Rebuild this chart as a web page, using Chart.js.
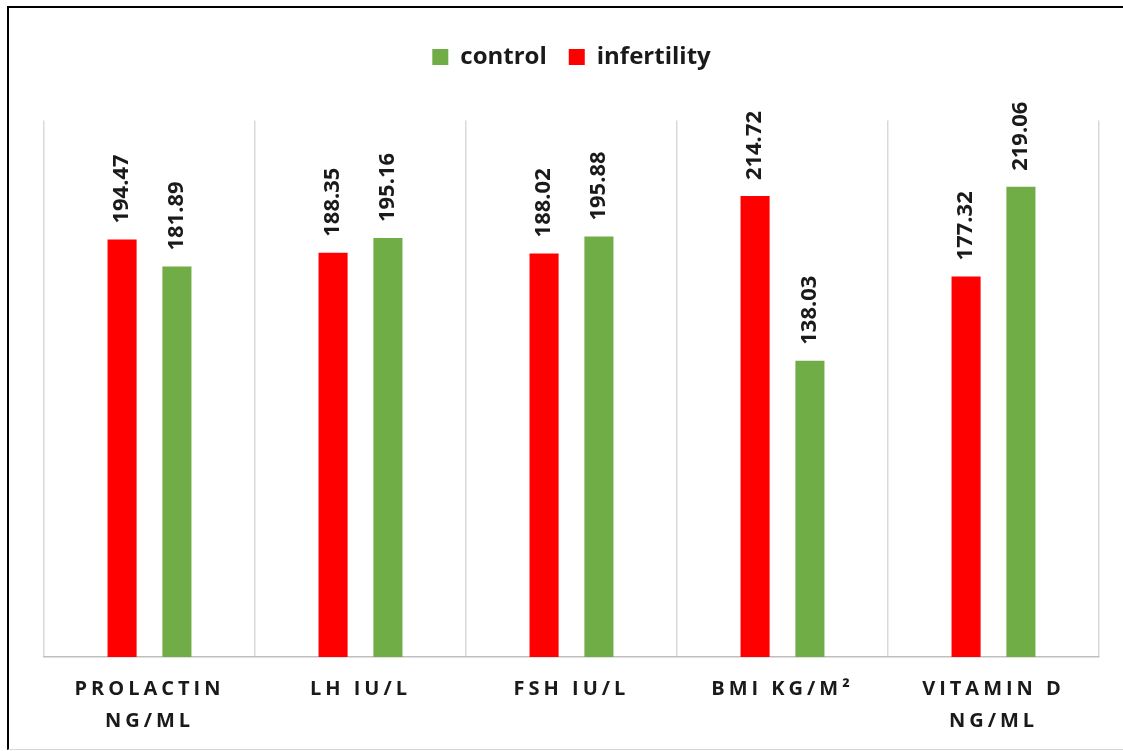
<!DOCTYPE html>
<html>
<head>
<meta charset="utf-8">
<script src="https://cdn.jsdelivr.net/npm/chart.js@4.4.0/dist/chart.umd.min.js"></script>
<style>
  html, body { margin: 0; padding: 0; background: #fff; overflow: hidden; }
  #wrap { position: relative; width: 1123px; height: 751px; overflow: hidden; }
  #frame {
    position: absolute; left: 7px; top: 6px; width: 1200px; height: 741px;
    border-left: 2px solid #000; border-top: 2px solid #000; border-bottom: 1px solid #d6d6d6;
    pointer-events: none;
  }
</style>
</head>
<body>
<div id="wrap">
  <canvas id="chart" width="1123" height="751"></canvas>
  <div id="frame"></div>
</div>
<script>
var categories = [['PROLACTIN', 'NG/ML'], ['LH IU/L'], ['FSH IU/L'], ['BMI KG/M²'], ['VITAMIN D', 'NG/ML']];
var infertility = [194.47, 188.35, 188.02, 214.72, 177.32];
var control = [181.89, 195.16, 195.88, 138.03, 219.06];

var FONT = "'Open Sans', 'Liberation Sans', sans-serif";

// rotated value labels above each bar
var valueLabels = {
  id: 'valueLabels',
  afterDatasetsDraw: function (chart) {
    var ctx = chart.ctx;
    ctx.save();
    ctx.font = 'bold 22px ' + FONT;
    ctx.fillStyle = '#1a1a1a';
    ctx.textAlign = 'left';
    ctx.textBaseline = 'middle';
    chart.data.datasets.forEach(function (ds, i) {
      chart.getDatasetMeta(i).data.forEach(function (bar, j) {
        ctx.save();
        ctx.translate(bar.x, bar.y - 16);
        ctx.rotate(-Math.PI / 2);
        ctx.fillText(ds.data[j].toFixed(2), 0, 0);
        ctx.restore();
      });
    });
    ctx.restore();
  }
};

// spaced-out category labels under the axis
var categoryLabels = {
  id: 'categoryLabels',
  afterDraw: function (chart) {
    var ctx = chart.ctx;
    var xs = chart.scales.x;
    var base = chart.chartArea.bottom;
    ctx.save();
    ctx.font = 'bold 20px ' + FONT;
    ctx.fillStyle = '#1a1a1a';
    ctx.textAlign = 'center';
    ctx.textBaseline = 'middle';
    ctx.letterSpacing = '4px';
    categories.forEach(function (lines, i) {
      var x = xs.getPixelForValue(i);
      lines.forEach(function (t, k) {
        ctx.fillText(t, x, base + 32 + k * 32);
      });
    });
    ctx.restore();
  }
};

new Chart(document.getElementById('chart'), {
  type: 'bar',
  data: {
    labels: categories.map(function (c) { return c.join(' '); }),
    datasets: [{
      label: 'infertility',
      data: infertility,
      backgroundColor: '#ff0000',
      categoryPercentage: 0.52,
      barPercentage: 0.53
    }, {
      label: 'control',
      data: control,
      backgroundColor: '#70ad47',
      categoryPercentage: 0.52,
      barPercentage: 0.53
    }]
  },
  options: {
    responsive: false,
    animation: false,
    layout: {
      padding: { top: 23, left: 44, right: 24, bottom: 94 }
    },
    scales: {
      x: {
        grid: { offset: true, color: '#d9d9d9', lineWidth: 1.5, drawTicks: false },
        border: { color: '#bfbfbf', width: 1.5 },
        ticks: { display: false }
      },
      y: {
        display: false,
        min: 0,
        max: 250
      }
    },
    plugins: {
      legend: {
        position: 'top',
        reverse: true,
        labels: {
          boxWidth: 16,
          boxHeight: 16,
          padding: 22,
          color: '#1a1a1a',
          font: { family: FONT, size: 24, weight: 'bold' }
        }
      },
      title: {
        // empty spacer between legend and plot
        display: true,
        text: '',
        weight: 500,
        padding: { top: 13, bottom: 14 }
      },
      tooltip: { enabled: false }
    }
  },
  plugins: [valueLabels, categoryLabels]
});
</script>
</body>
</html>
